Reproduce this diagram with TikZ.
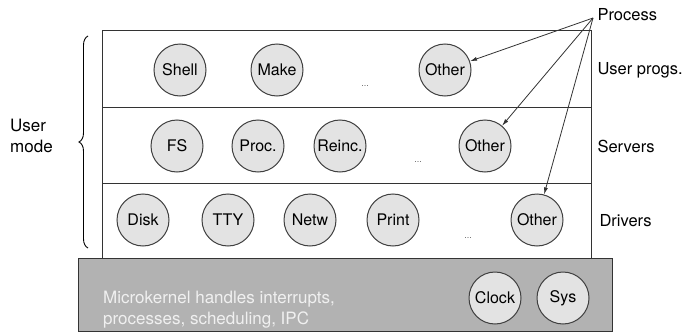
\documentclass[tikz,border=0pt]{standalone}
\usepackage{fontspec}
\setmainfont{TeX Gyre Heros}
\usepackage{xcolor}
\usetikzlibrary{arrows.meta, positioning, decorations.pathreplacing}

\begin{document}
\begin{tikzpicture}[
  x=1pt, y=-1pt,
  proc/.style={circle, draw=black!75, line width=1pt, fill=gray!22, minimum size=52pt, inner sep=0pt, font=\fontsize{16}{18}\selectfont},
  layer/.style={draw=black!80, line width=0.9pt},
  side/.style={anchor=west, font=\fontsize{16.5}{19}\selectfont},
  dots/.style={font=\fontsize{9}{10}\selectfont, text=black!60},
  point/.style={-{Latex[length=7pt, width=4pt]}, line width=0.8pt, black!80}
]
  \useasboundingbox (0,0) rectangle (691,332);

  % Layers of user mode
  \draw[layer] (102,30) rectangle (591,258);
  \draw[layer] (102,107) -- (591,107);
  \draw[layer] (102,183) -- (591,183);

  % Microkernel
  \draw[layer, fill=gray!60] (78,258) rectangle (612,331);
  \node[anchor=north west, align=left, text=gray!12, font=\fontsize{17}{21}\selectfont, inner sep=0pt] (kernel) at (103,291)
    {Microkernel handles interrupts,\\processes, scheduling, IPC};

  % User programs
  \node[proc] (shell) at (180,70) {Shell};
  \node[proc] (make) at (277,70) {Make};
  \node[dots] (dotsU) at (365,86) {...};
  \node[proc] (otherU) at (445,70) {Other};

  % Servers
  \node[proc] (fs) at (177,146) {FS};
  \node[proc] (procs) at (258,146) {Proc.};
  \node[proc] (reinc) at (340,146) {Reinc.};
  \node[dots] (dotsS) at (418,162) {...};
  \node[proc] (otherS) at (485,146) {Other};

  % Drivers
  \node[proc] (disk) at (143,220) {Disk};
  \node[proc] (tty) at (228,220) {TTY};
  \node[proc] (netw) at (310,220) {Netw};
  \node[proc] (print) at (393,220) {Print};
  \node[dots] (dotsD) at (468,238) {...};
  \node[proc] (otherD) at (537,220) {Other};

  % Kernel processes
  \node[proc] (clock) at (495,298) {Clock};
  \node[proc] (sys) at (563,298) {Sys};

  % Labels on the right
  \node[side] (process) at (594,15) {Process};
  \node[side] (userprogs) at (594,70) {User progs.};
  \node[side] (servers) at (594,146) {Servers};
  \node[side] (drivers) at (596,221) {Drivers};

  % User mode brace
  \draw[decorate, decoration={brace, amplitude=9pt}, line width=0.9pt]
    (88,248) -- (88,36);
  \node[anchor=west, align=left, font=\fontsize{17}{21}\selectfont, inner sep=0pt] (usermode) at (10,136) {User\\mode};

  % Arrows to processes
  \coordinate (procpt) at (593,18);
  \draw[point] (procpt) -- (otherU);
  \draw[point] (procpt) -- (otherS);
  \draw[point] (procpt) -- (otherD);

\end{tikzpicture}
\end{document}
